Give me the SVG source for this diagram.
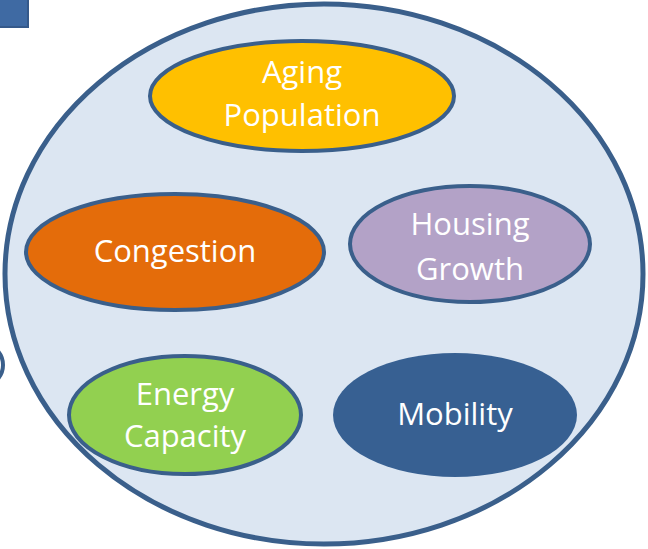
<svg xmlns="http://www.w3.org/2000/svg" width="648" height="549" viewBox="0 0 648 549">
<style>
.n{stroke:#3a5f8b;stroke-width:4}
.t{font-family:"Open Sans","Lato",sans-serif;font-size:31px;fill:#ffffff;text-anchor:middle}
</style>
<rect x="-4" y="-4" width="32" height="31" fill="#3f6aa3" stroke="#35598a" stroke-width="2"/>
<ellipse cx="-20" cy="365" rx="23" ry="22" fill="none" stroke="#3a5f8b" stroke-width="4"/>
<g id="outer"><ellipse cx="324" cy="274" rx="319" ry="270" fill="#dce6f2" stroke="#3a5f8b" stroke-width="5"/></g>
<g id="connectors"></g>
<g id="aging"><ellipse class="n" cx="302" cy="96" rx="152" ry="55" fill="#ffc000"/><text class="t" x="302" y="83">Aging</text><text class="t" x="302" y="126">Population</text></g>
<g id="congestion"><ellipse class="n" cx="175" cy="252" rx="149" ry="58" fill="#e46c0a"/><text class="t" x="175" y="262">Congestion</text></g>
<g id="housing"><ellipse class="n" cx="470" cy="244" rx="120" ry="58" fill="#b3a2c7"/><text class="t" x="470" y="235">Housing</text><text class="t" x="470" y="280">Growth</text></g>
<g id="energy"><ellipse class="n" cx="185" cy="415" rx="116" ry="59" fill="#92d050"/><text class="t" x="185" y="405">Energy</text><text class="t" x="185" y="447">Capacity</text></g>
<g id="mobility"><ellipse cx="455" cy="415" rx="122" ry="62" fill="#376092"/><text class="t" x="455" y="425">Mobility</text></g>
</svg>
